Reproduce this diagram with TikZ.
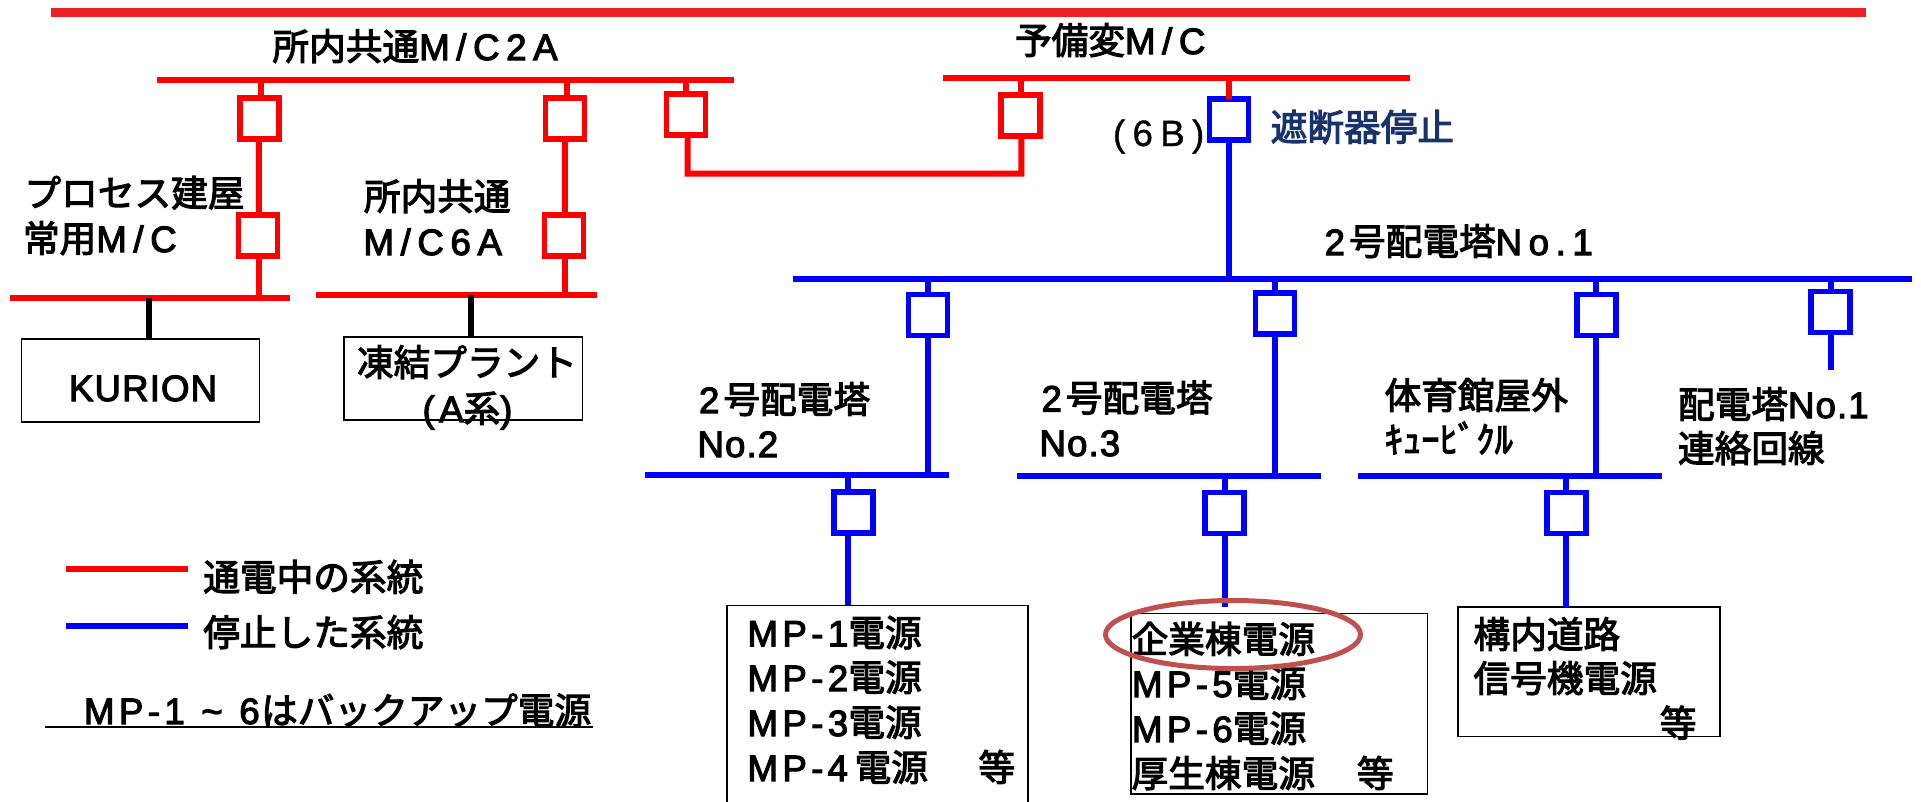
\documentclass[tikz,border=0pt]{standalone}
\usepackage{fontspec}
\setmainfont[LetterSpace=12,FakeBold=3]{Liberation Sans}
\newfontfamily\jp[FakeBold=3]{Noto Sans CJK JP}
\newfontfamily\lwide[LetterSpace=18,FakeBold=3]{Liberation Sans}
\newfontfamily\lparen[LetterSpace=20,FakeBold=1]{Liberation Sans}
\newfontfamily\ltight[LetterSpace=3,FakeBold=3]{Liberation Sans}
\newcommand\J[1]{{\jp #1}}
\newcommand\W[1]{{\lwide #1}}
\newcommand\Tt[1]{{\ltight #1}}
\definecolor{topred}{HTML}{ED2024}
\definecolor{pwr}{HTML}{FF0000}
\definecolor{off}{HTML}{0000FF}
\definecolor{navy}{HTML}{17326E}
\definecolor{ring}{HTML}{C0504D}
\tikzset{
  brk/.style={draw,fill=white,line width=5.5*0.75pt,inner sep=0pt,outer sep=0pt,minimum width=39*0.75pt,minimum height=41*0.75pt},
  busbar/.style={fill,inner sep=0pt,outer sep=0pt,minimum height=6*0.75pt},
  wire/.style={line width=6*0.75pt},
  thinbox/.style={draw=black,line width=1.6*0.75pt,inner sep=0pt,outer sep=0pt},
  txt/.style={anchor=base west,inner sep=0pt,outer sep=0pt,font=\fontsize{27.5pt}{33pt}\selectfont},
}
\begin{document}
\begin{tikzpicture}[x=0.75pt,y=-0.75pt]
\useasboundingbox (0,0) rectangle (1921,801);
% top bar
\node[busbar,fill=topred,minimum width=1815*0.75pt,minimum height=8.7*0.75pt] (topbar) at (958.5,12.3) {};
% buses
\node[busbar,fill=pwr,minimum width=577*0.75pt] (busA) at (445.5,79.7) {};
\node[busbar,fill=pwr,minimum width=467*0.75pt] (busS) at (1176.4,78) {};
\node[busbar,fill=pwr,minimum width=280*0.75pt] (busP) at (150,298) {};
\node[busbar,fill=pwr,minimum width=281*0.75pt] (busC) at (456.5,295) {};
\node[busbar,fill=off,minimum width=1119*0.75pt] (busM) at (1352,279) {};
\node[busbar,fill=off,minimum width=304*0.75pt] (busN2) at (797,475) {};
\node[busbar,fill=off,minimum width=304*0.75pt] (busN3) at (1169,476) {};
\node[busbar,fill=off,minimum width=304*0.75pt] (busG) at (1509.7,476) {};
% breakers
\node[brk,draw=pwr] (b1) at (259.5,118.3) {};
\node[brk,draw=pwr] (b2) at (565,118.3) {};
\node[brk,draw=pwr] (b3) at (686,114.3) {};
\node[brk,draw=pwr] (b4) at (258,235.5) {};
\node[brk,draw=pwr] (b5) at (564,235.5) {};
\node[brk,draw=pwr] (b6) at (1020.6,115.7) {};
\node[brk,draw=off] (b7) at (1229,119.7) {};
\node[brk,draw=off] (b8) at (928,315) {};
\node[brk,draw=off] (b9) at (1275,313.3) {};
\node[brk,draw=off] (b10) at (1596.6,315) {};
\node[brk,draw=off] (b11) at (1830.7,312) {};
\node[brk,draw=off] (b12) at (853.6,512.5) {};
\node[brk,draw=off] (b13) at (1224.7,513) {};
\node[brk,draw=off] (b14) at (1566.6,513) {};
% boxes
\node[thinbox,minimum width=238*0.75pt,minimum height=83*0.75pt] (kurion) at (140.5,380.2) {};
\node[thinbox,minimum width=238.4*0.75pt,minimum height=83.3*0.75pt] (freeze) at (463.2,378.4) {};
\node[thinbox,minimum width=301*0.75pt,minimum height=220*0.75pt] (mpbox) at (877.5,715.3) {};
\node[thinbox,minimum width=296.5*0.75pt,minimum height=180.7*0.75pt] (corpbox) at (1279.2,703.7) {};
\node[thinbox,minimum width=261.8*0.75pt,minimum height=129.7*0.75pt] (roadbox) at (1589,671.8) {};
\coordinate (brk11end) at (1830.7,370);
\coordinate (corpin) at (1224.7,606.7);
% red connectors
\begin{scope}[wire,pwr]
\draw ([xshift=1.1pt]b1.north) -- ([xshift=1.1pt]b1.north |- busA.center);
\draw ([xshift=-0.4pt]b1.south) -- ([xshift=0.7pt]b4.north);
\draw ([xshift=0.7pt]b4.south) -- ([xshift=0.7pt]b4.south |- busP.center);
\draw ([xshift=1.5pt]b2.north) -- ([xshift=1.5pt]b2.north |- busA.center);
\draw (b2.south) -- ([xshift=0.7pt]b5.north);
\draw ([xshift=0.7pt]b5.south) -- ([xshift=0.7pt]b5.south |- busC.center);
\draw (b3.north) -- (b3.north |- busA.center);
\draw ([xshift=1.2pt]b3.south) |- (1021.3,173.7) -- ([xshift=0.5pt]b6.south);
\draw ([xshift=0.5pt]b6.north) -- ([xshift=0.5pt]b6.north |- busS.center);
\draw (b7.north) -- (b7.north |- busS.center);
\end{scope}
% blue connectors
\begin{scope}[wire,off]
\draw (b7.south) -- (b7.south |- busM.center);
\draw (b8.north) -- (b8.north |- busM.center);
\draw (b8.south) -- (b8.south |- busN2.center);
\draw (b9.north) -- (b9.north |- busM.center);
\draw (b9.south) -- (b9.south |- busN3.center);
\draw ([xshift=-0.4pt]b10.north) -- ([xshift=-0.4pt]b10.north |- busM.center);
\draw ([xshift=-0.4pt]b10.south) -- ([xshift=-0.4pt]b10.south |- busG.center);
\draw (b11.north) -- (b11.north |- busM.center);
\draw (b11.south) -- (brk11end);
\draw ([xshift=-4.2pt]b12.north) -- ([xshift=-4.2pt]b12.north |- busN2.center);
\draw ([xshift=-4.2pt]b12.south) -- ([xshift=-4.2pt]b12.south |- mpbox.north);
\draw (b13.north) -- (b13.north |- busN3.center);
\draw (b13.south) -- (corpin);
\draw ([xshift=-0.4pt]b14.north) -- ([xshift=-0.4pt]b14.north |- busG.center);
\draw ([xshift=-0.4pt]b14.south) -- ([xshift=-0.4pt]b14.south |- roadbox.north);
\end{scope}
% black connectors
\draw[wire,black] (kurion.north -| 148.8,0) -- (148.8,298);
\draw[wire,black] (freeze.north -| 471,0) -- (471,295);
% texts
\node[txt] (t1) at (272.5,60) {\J{所内共通}\W{M/C2A}};
\node[txt] (t2) at (1015,54) {\J{予備変}\W{M/C}};
\node[txt] (t3) at (1113,146) {{\lparen (6B)}};
\node[txt,text=navy] (t4) at (1270.7,140.7) {\J{遮断器停止}};
\node[txt] (t5) at (1324.6,255) {2\hspace{3pt}\J{号配電塔}\W{No.1}};
\node[txt] (t6) at (24.5,206.5) {\J{プロセス建屋}};
\node[txt] (t7) at (23,252) {\J{常用}\W{M/C}};
\node[txt] (t8) at (364,210) {\J{所内共通}};
\node[txt] (t9) at (363.5,255) {\W{M/C6A}};
\node[txt] (t10) at (69,401) {\Tt{KURION}};
\node[txt] (t11) at (357,376) {\J{凍結プラント}};
\node[txt] (t12) at (422.5,422) {(A\J{系})};
\node[txt] (t13) at (699,413) {2\hspace{3pt}\J{号配電塔}};
\node[txt] (t14) at (697.5,457) {\Tt{No.2}};
\node[txt] (t15) at (1041.5,411.5) {2\hspace{3pt}\J{号配電塔}};
\node[txt] (t16) at (1039.5,456) {\Tt{No.3}};
\node[txt] (t17) at (1384.6,409) {\J{体育館屋外}};
\node[txt] (t18) at (1384.6,453) {\J{ｷｭｰﾋﾞｸﾙ}};
\node[txt] (t19) at (1678,418) {\J{配電塔}\Tt{No.1}};
\node[txt] (t20) at (1678,462) {\J{連絡回線}};
\node[txt] (t21) at (203.3,590.7) {\J{通電中の系統}};
\node[txt] (t22) at (203.3,646) {\J{停止した系統}};
\node[txt] (t23) at (84,724) {MP-1\hspace{1.5pt} \textasciitilde{}\hspace{1.5pt} 6\hspace{1pt}\J{はバックアップ電源}};
\node[txt] (t24) at (747.5,646.3) {MP-1\J{電源}};
\node[txt] (t25) at (747.5,691) {MP-2\J{電源}};
\node[txt] (t26) at (747.5,736) {MP-3\J{電源}};
\node[txt] (t27) at (747.5,781) {MP-\hspace{3pt}4\hspace{5pt}\J{電源}};
\node[txt] (t28) at (978.4,781) {\J{等}};
\node[txt] (t29) at (1131.6,652.8) {\J{企業棟電源}};
\node[txt] (t30) at (1132,697) {MP-5\J{電源}};
\node[txt] (t31) at (1132,742) {MP-6\J{電源}};
\node[txt] (t32) at (1131.6,787) {\J{厚生棟電源}};
\node[txt] (t33) at (1357,787) {\J{等}};
\node[txt] (t34) at (1473.5,648) {\J{構内道路}};
\node[txt] (t35) at (1473.5,692) {\J{信号機電源}};
\node[txt] (t36) at (1659.8,736.7) {\J{等}};
% legend
\coordinate (lga) at (66,569); \coordinate (lgb) at (188,569);
\coordinate (lgc) at (66,626); \coordinate (lgd) at (188,626);
\coordinate (ula) at (44.7,727.3); \coordinate (ulb) at (593.4,727.3);
\draw[wire,pwr] (lga) -- (lgb);
\draw[wire,off] (lgc) -- (lgd);
\draw[black,line width=2*0.75pt] (ula) -- (ulb);
% ring
\draw[ring,line width=5*0.75pt] (1233,634.5) ellipse [x radius=127.5,y radius=34];
\end{tikzpicture}
\end{document}
